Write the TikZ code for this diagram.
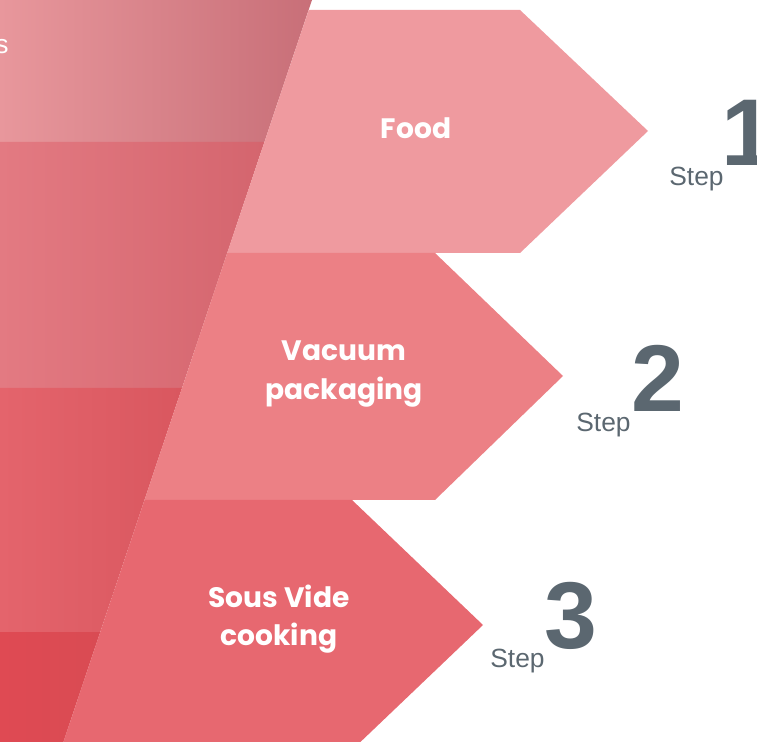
\documentclass[tikz,border=0pt]{standalone}
\usepackage{fontspec}
\setmainfont{Liberation Sans}
\newfontfamily\labelfont{Poppins}
\usepackage{tikz}
\usetikzlibrary{calc}
\usepackage{xcolor}
\definecolor{stepone}{HTML}{EF9A9F}
\definecolor{steptwo}{HTML}{EC8085}
\definecolor{stepthree}{HTML}{E76870}
\definecolor{stepgray}{HTML}{5B6770}
\definecolor{bandAl}{HTML}{E8979C}
\definecolor{bandAr}{HTML}{C86F78}
\definecolor{bandBl}{HTML}{E37A82}
\definecolor{bandBr}{HTML}{D4656E}
\definecolor{bandCl}{HTML}{E4646C}
\definecolor{bandCr}{HTML}{D9575F}
\definecolor{bandDl}{HTML}{DF4A53}
\definecolor{bandDr}{HTML}{D94B53}

\begin{document}
\begin{tikzpicture}[x=0.02cm,y=-0.02cm,
  steplabel/.style={white,align=center,inner sep=0pt,font=\labelfont\bfseries\fontsize{16}{22}\selectfont},
  stepword/.style={stepgray,anchor=base west,inner sep=0pt,font=\fontsize{15}{17}\selectfont},
  stepnum/.style={stepgray,anchor=base west,inner sep=0pt,font=\bfseries\fontsize{54}{54}\selectfont}]
  \useasboundingbox (0,0) rectangle (757,742);
  \clip (0,0) rectangle (757,742);
  \foreach \ya/\yb/\cl/\cr in {0/142/bandAl/bandAr,142/388/bandBl/bandBr,388/632/bandCl/bandCr,632/742/bandDl/bandDr}
    \shade[left color=\cl,right color=\cr] (0,\ya) -- ({312-0.335*\ya},\ya) -- ({312-0.335*\yb},\yb) -- (0,\yb) -- cycle;
  \node[white,anchor=base east,inner sep=0pt,font=\fontsize{15}{17}\selectfont] (cut) at (9,54) {s};
  \fill[stepone] (308.7,10) -- (520,10) -- (648,131) -- (520,253) -- (227.2,253) -- cycle;
  \fill[steptwo] (227.2,253) -- (435,253) -- (563,376) -- (435,500) -- (144.5,500) -- cycle;
  \fill[stepthree] (144.5,500) -- (352,500) -- (483,625) -- (352,750) -- (60.7,750) -- cycle;
  \node[steplabel] (food) at (416,128) {Food};
  \node[steplabel] (vacuum) at (344,374) {Vacuum\\packaging};
  \node[steplabel] (sousvide) at (279,619) {Sous Vide\\cooking};
  \node[stepword] (stepA) at (669,186) {Step};
  \node[stepnum] (numA) at ($(stepA.base east)+(-3,-20)$) {1};
  \node[stepword] (stepB) at (576,432) {Step};
  \node[stepnum] (numB) at ($(stepB.base east)+(0,-20)$) {2};
  \node[stepword] (stepC) at (490,667) {Step};
  \node[stepnum] (numC) at ($(stepC.base east)+(-1,-19)$) {3};
\end{tikzpicture}
\end{document}
